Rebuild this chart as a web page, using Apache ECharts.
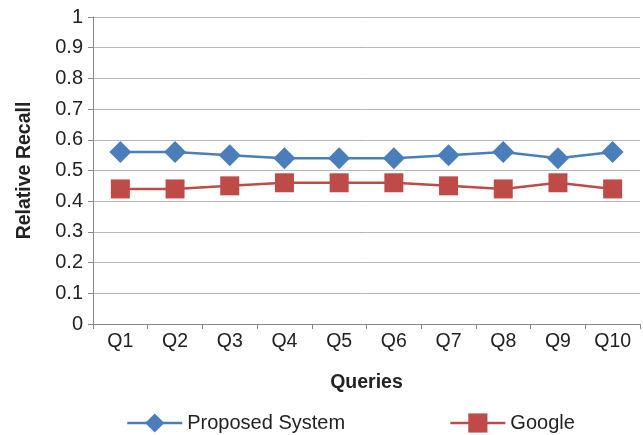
<!DOCTYPE html>
<html>
<head>
<meta charset="utf-8" />
<title>Relative Recall</title>
<script src="https://cdn.jsdelivr.net/npm/echarts@6/dist/echarts.min.js"></script>
<style>
  html, body { margin: 0; padding: 0; background: #fff; }
  #chart { width: 643px; height: 435px; }
</style>
</head>
<body>
<div id="chart"></div>
<script>
var queries = ['Q1', 'Q2', 'Q3', 'Q4', 'Q5', 'Q6', 'Q7', 'Q8', 'Q9', 'Q10'];
var proposedSystem = [0.56, 0.56, 0.55, 0.54, 0.54, 0.54, 0.55, 0.56, 0.54, 0.56];
var google = [0.44, 0.44, 0.45, 0.46, 0.46, 0.46, 0.45, 0.44, 0.46, 0.44];

var myChart = echarts.init(document.getElementById('chart'));
var font = 'Liberation Sans, Arial, sans-serif';
var option = {
  animation: false,
  grid: { left: 93, right: 3, top: 17, bottom: 111, containLabel: false },
  legend: {
    top: 408,
    left: 121,
    itemGap: 104,
    itemWidth: 55,
    itemHeight: 24,
    lineStyle: { width: 2.5 },
    textStyle: { fontFamily: font, fontSize: 20, color: '#222' },
    data: ['Proposed System', 'Google']
  },
  xAxis: {
    type: 'category',
    data: queries,
    boundaryGap: true,
    name: 'Queries',
    nameLocation: 'middle',
    nameGap: 49,
    nameTextStyle: { fontFamily: font, fontSize: 19.5, fontWeight: 'bold', color: '#222' },
    axisLine: { lineStyle: { color: '#888', width: 1 } },
    axisTick: { show: true, length: 5, lineStyle: { color: '#888' } },
    axisLabel: { fontFamily: font, fontSize: 19.5, color: '#222', margin: 8 }
  },
  yAxis: {
    type: 'value',
    min: 0,
    max: 1,
    interval: 0.1,
    name: 'Relative Recall',
    nameLocation: 'middle',
    nameGap: 58,
    nameTextStyle: { fontFamily: font, fontSize: 19.5, fontWeight: 'bold', color: '#222' },
    axisLine: { show: true, lineStyle: { color: '#888' } },
    axisTick: { show: true, length: 5, lineStyle: { color: '#888' } },
    splitLine: { lineStyle: { color: '#b8b8b8', width: 1 } },
    axisLabel: { fontFamily: font, fontSize: 20, color: '#222', margin: 10 }
  },
  series: [
    {
      name: 'Proposed System',
      type: 'line',
      data: proposedSystem,
      symbol: 'diamond',
      symbolSize: 22,
      lineStyle: { color: '#4a7ebb', width: 2.5 },
      itemStyle: { color: '#4a7ebb' }
    },
    {
      name: 'Google',
      type: 'line',
      data: google,
      symbol: 'rect',
      symbolSize: 19,
      lineStyle: { color: '#be4b48', width: 2.5 },
      itemStyle: { color: '#be4b48' }
    }
  ]
};
myChart.setOption(option);
</script>
</body>
</html>
